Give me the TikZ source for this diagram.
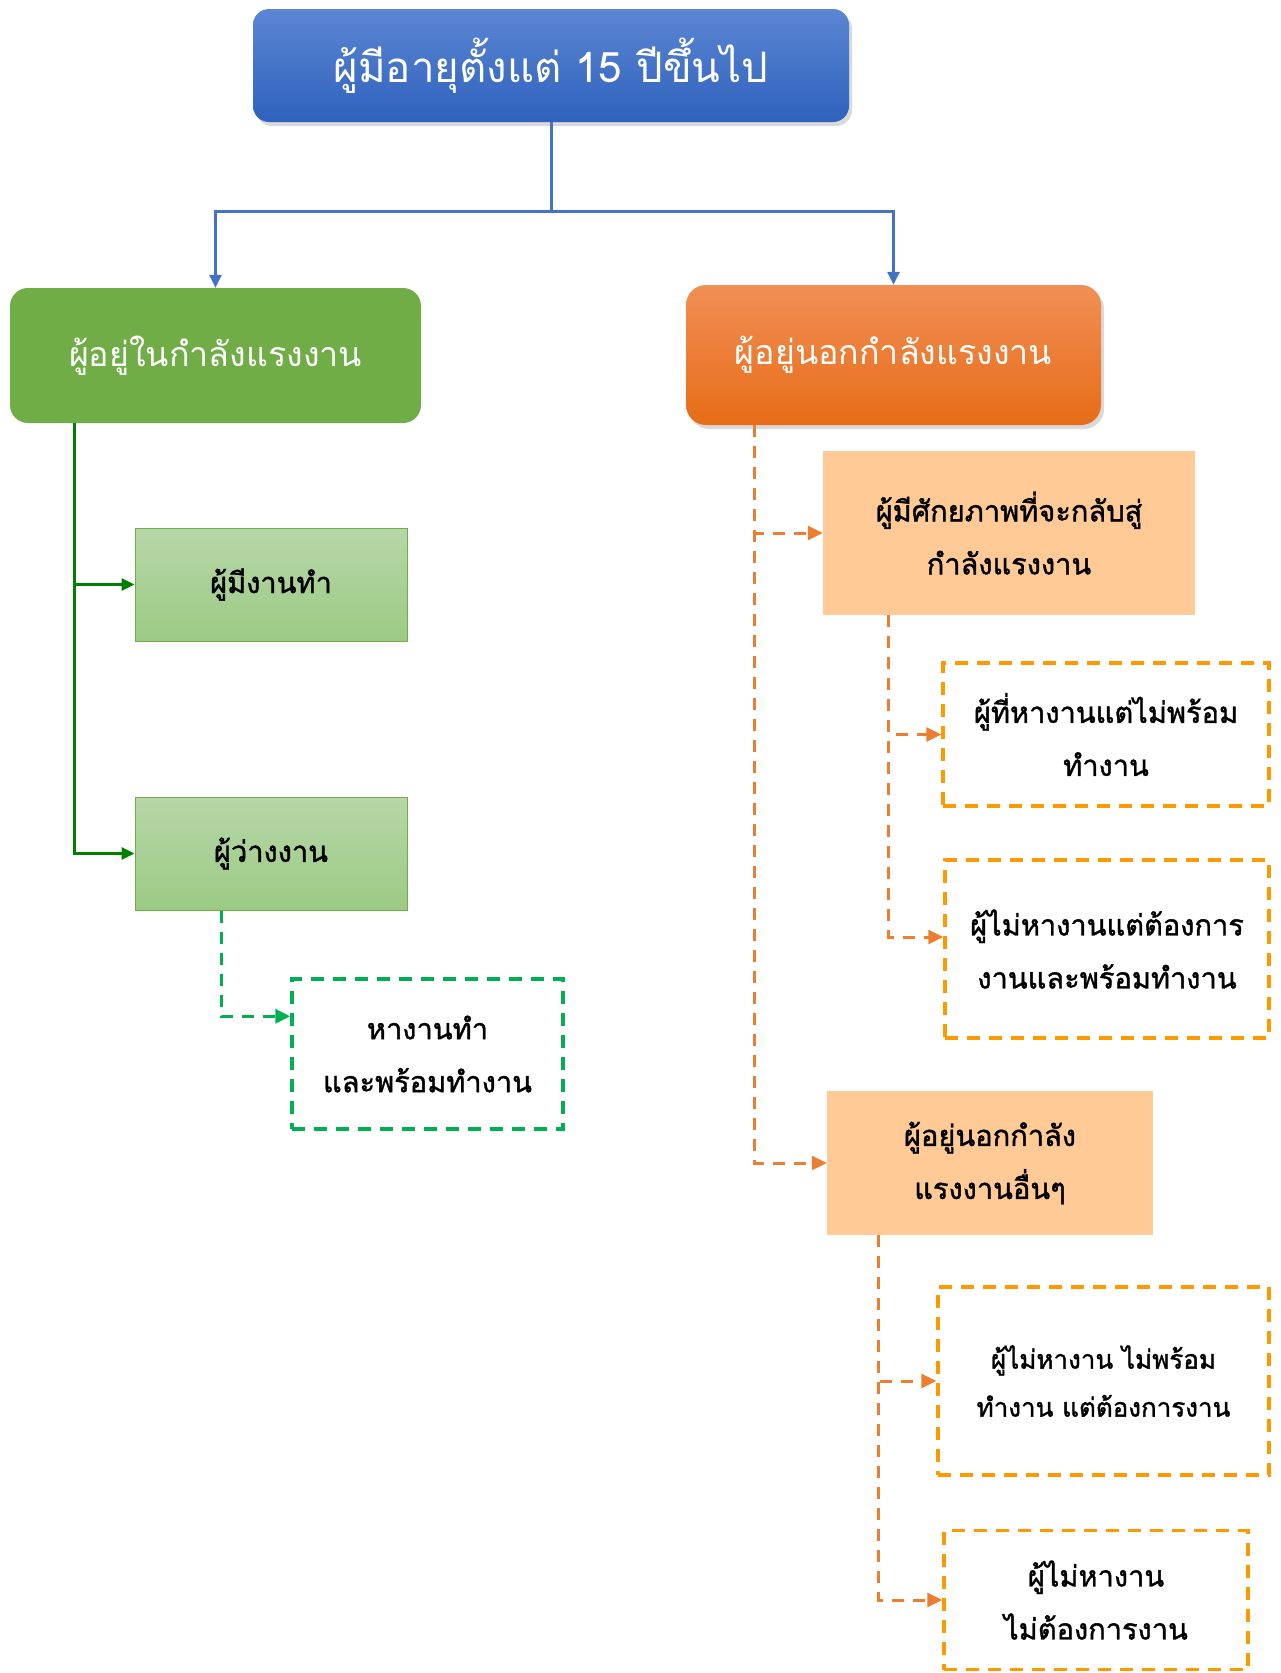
\documentclass[tikz,border=0pt]{standalone}
\usepackage{fontspec}
\newfontfamily\thaifont[Script=Thai]{Loma}
\newfontfamily\thaiheavy[Script=Thai,FakeBold=1.3]{Loma}
\usepackage{tikz}
\usetikzlibrary{arrows.meta,positioning,shadows}
\definecolor{BUS}{HTML}{4472C4}
\definecolor{TOPA}{HTML}{5B86D2}
\definecolor{TOPB}{HTML}{2F62BD}
\definecolor{INLF}{HTML}{70AD47}
\definecolor{OUTA}{HTML}{F18F55}
\definecolor{OUTB}{HTML}{E76C17}
\definecolor{LEAFA}{HTML}{B6D7A8}
\definecolor{LEAFB}{HTML}{9CCA84}
\definecolor{SEEK}{HTML}{00B050}
\definecolor{LINK}{HTML}{ED7D31}
\definecolor{EDGE}{HTML}{FF9900}
\definecolor{PEACH}{HTML}{FFCA96}

\begin{document}
\begin{tikzpicture}[
  x=1pt, y=-1pt,
  font=\thaifont,
  head/.style={rounded corners=16pt, text=white, align=center, drop shadow={shadow xshift=3pt, shadow yshift=-4pt, opacity=0.3}},
  top/.style={head, top color=TOPA, bottom color=TOPB, minimum width=596pt, minimum height=113pt, font=\thaifont\fontsize{42}{50}\selectfont},
  grp/.style={rounded corners=18pt, text=white, align=center, minimum width=411pt, minimum height=135pt, font=\thaifont\fontsize{34}{40}\selectfont},
  leaf/.style={draw=INLF, line width=1pt, top color=LEAFA, bottom color=LEAFB, minimum width=272pt, minimum height=113pt, font=\thaiheavy\fontsize{29}{53}\selectfont},
  peach/.style={fill=PEACH, align=center, minimum width=326pt, minimum height=144pt, font=\thaiheavy\fontsize{29}{53}\selectfont},
  dbox/.style={draw=EDGE, line width=3.5pt, dash pattern=on 13pt off 9pt, align=center, font=\thaiheavy\fontsize{29}{53}\selectfont},
  busarr/.style={-{Triangle[length=13pt,width=12pt]}, draw=BUS, line width=3pt},
  grnarr/.style={-{Triangle[length=13pt,width=12pt]}, draw=green!50!black, line width=3pt},
  dgrn/.style={-{Triangle[length=15pt,width=14pt]}, draw=SEEK, line width=3.5pt, dash pattern=on 12pt off 9pt},
  dora/.style={-{Triangle[length=15pt,width=14pt]}, draw=LINK, line width=3pt, dash pattern=on 12pt off 9pt}
]
\useasboundingbox (0,0) rectangle (1280,1673);

% top and the two groups
\node[top] (pop) at (551,65.5) {ผู้มีอายุตั้งแต่ 15 ปีขึ้นไป};
\node[grp, fill=INLF] (inlf) at (215.5,355.5) {ผู้อยู่ในกำลังแรงงาน};
\node[grp, head, rounded corners=20pt, top color=OUTA, bottom color=OUTB, minimum width=415pt, minimum height=140pt] (outlf) at (893.5,355) {ผู้อยู่นอกกำลังแรงงาน};

\coordinate (bus) at (551,211);
\draw[busarr] (pop.south) -- (pop.south |- bus) -| (inlf.north);
\draw[busarr] (pop.south |- bus) -| (outlf.north);

% labour force side
\node[leaf] (emp) at (271,584.5) {ผู้มีงานทำ};
\node[leaf] (unemp) at (271,853.5) {ผู้ว่างงาน};
\node[dbox, draw=SEEK, minimum width=271pt, minimum height=150pt] (seek) at (427.5,1054) {หางานทำ\\และพร้อมทำงาน};

\coordinate (gtrunk) at ([xshift=65pt]inlf.south west);
\draw[grnarr] (gtrunk) |- (emp.west);
\draw[grnarr] (gtrunk) |- (unemp.west);
\draw[dgrn] ([xshift=87pt]unemp.south west) |- ([yshift=-39pt]seek.north west);

% outside labour force side
\node[peach, minimum width=372pt, minimum height=164pt] (pot) at (1009,533) {ผู้มีศักยภาพที่จะกลับสู่\\กำลังแรงงาน};
\node[dbox, minimum width=326pt, minimum height=143pt] (potA) at (1106,734.5) {ผู้ที่หางานแต่ไม่พร้อม\\ทำงาน};
\node[dbox, minimum width=324pt, minimum height=178pt] (potB) at (1107,949) {ผู้ไม่หางานแต่ต้องการ\\งานและพร้อมทำงาน};
\node[peach] (oth) at (990,1163) {ผู้อยู่นอกกำลัง\\แรงงานอื่นๆ};
\node[dbox, minimum width=331pt, minimum height=188pt, font=\thaiheavy\fontsize{26}{48}\selectfont] (othA) at (1103.5,1381) {ผู้ไม่หางาน ไม่พร้อม\\ทำงาน แต่ต้องการงาน};
\node[dbox, minimum width=304pt, minimum height=139pt] (othB) at (1096,1600) {ผู้ไม่หางาน\\ไม่ต้องการงาน};

\coordinate (otrunk) at ([xshift=69pt]outlf.south west);
\draw[dora] (otrunk) |- (pot.west);
\draw[dora] (otrunk) |- (oth.west);
\coordinate (ptrunk) at ([xshift=66pt]pot.south west);
\draw[dora] (ptrunk) |- (potA.west);
\draw[dora] (ptrunk) |- ([yshift=12pt]potB.west);
\coordinate (xtrunk) at ([xshift=52pt]oth.south west);
\draw[dora] (xtrunk) |- (othA.west);
\draw[dora] (xtrunk) |- (othB.west);

\end{tikzpicture}
\end{document}
